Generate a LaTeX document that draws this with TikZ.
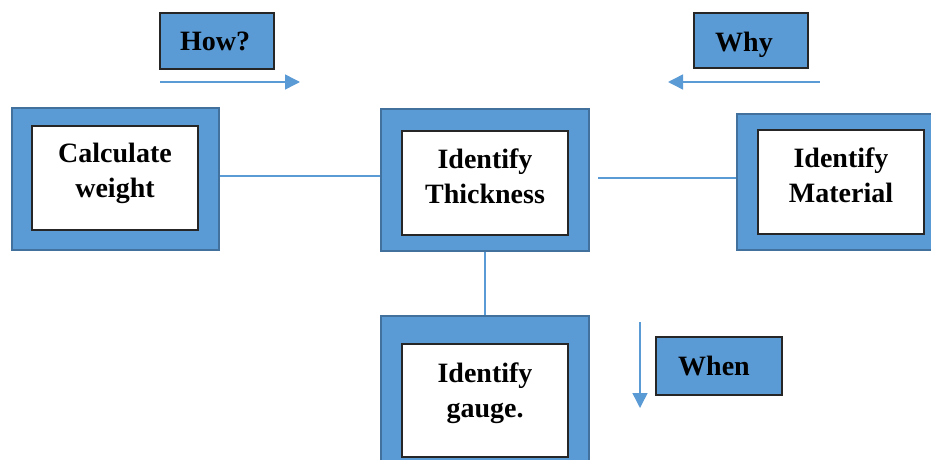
\documentclass[tikz,border=0pt]{standalone}
\usepackage{fontspec}
\setmainfont{Liberation Serif}
\usetikzlibrary{arrows.meta}
\definecolor{fillblue}{HTML}{5B9BD5}
\definecolor{edgeblue}{HTML}{41719C}
\begin{document}
\begin{tikzpicture}[x=1pt,y=-1pt,
  outerbox/.style={draw=edgeblue, line width=1.5pt, fill=fillblue, inner sep=0pt},
  innerbox/.style={draw=black!85, line width=1.5pt, fill=white, inner sep=0pt},
  tagbox/.style={draw=black!85, line width=1.3pt, fill=fillblue, inner sep=0pt},
  lbl/.style={font=\bfseries\fontsize{28}{35}\selectfont, align=center, inner sep=0pt},
  conn/.style={draw=fillblue, line width=1.5pt},
  flow/.style={draw=fillblue, line width=1.5pt, -{Triangle[length=15pt,width=15pt]}}]
\clip (0,0) rectangle (931,460);
\fill[white] (0,0) rectangle (931,460);
% question tags
\node[tagbox, minimum width=114pt, minimum height=56pt] (how) at (217,41) {};
\node[lbl, anchor=base] (howt) at (215,51) {How?};
\node[tagbox, minimum width=114pt, minimum height=55pt] (why) at (751,40.5) {};
\node[lbl, anchor=base] (whyt) at (744,52) {Why};
\node[tagbox, minimum width=126pt, minimum height=58pt] (when) at (719,366) {};
\node[lbl, anchor=base] (whent) at (714,375) {When};
% direction arrows
\coordinate (howa) at (160,82);
\coordinate (howb) at (300,82);
\draw[flow] (howa) -- (howb);
\coordinate (whya) at (820,82);
\coordinate (whyb) at (668,82);
\draw[flow] (whya) -- (whyb);
\coordinate (whena) at (640,322);
\coordinate (whenb) at (640,408);
\draw[flow] (whena) -- (whenb);
% main boxes
\node[outerbox, minimum width=207pt, minimum height=142pt] (calc) at (115.5,179) {};
\node[innerbox, minimum width=166pt, minimum height=104pt] (calci) at (115,178) {};
\node[lbl] (calct) at (115,173.5) {Calculate\\weight};
\node[outerbox, minimum width=208pt, minimum height=142pt] (thick) at (485,180) {};
\node[innerbox, minimum width=166pt, minimum height=104pt] (thicki) at (485,183) {};
\node[lbl] (thickt) at (485,176) {Identify\\Thickness};
\node[outerbox, minimum width=208pt, minimum height=136pt] (mat) at (841,182) {};
\node[innerbox, minimum width=166pt, minimum height=104pt] (mati) at (841,182) {};
\node[lbl] (matt) at (841,175.5) {Identify\\Material};
\node[outerbox, minimum width=208pt, minimum height=150pt] (gauge) at (485,391) {};
\node[innerbox, minimum width=166pt, minimum height=113pt] (gaugei) at (485,400.5) {};
\node[lbl] (gauget) at (485,393.5) {Identify\\gauge.};
% connectors
\draw[conn] (calc.east |- 0,176) -- (thick.west |- 0,176);
\coordinate (tm) at (598,178);
\draw[conn] (tm) -- (mat.west |- tm);
\draw[conn] (thick.south) -- (gauge.north);
\end{tikzpicture}
\end{document}
